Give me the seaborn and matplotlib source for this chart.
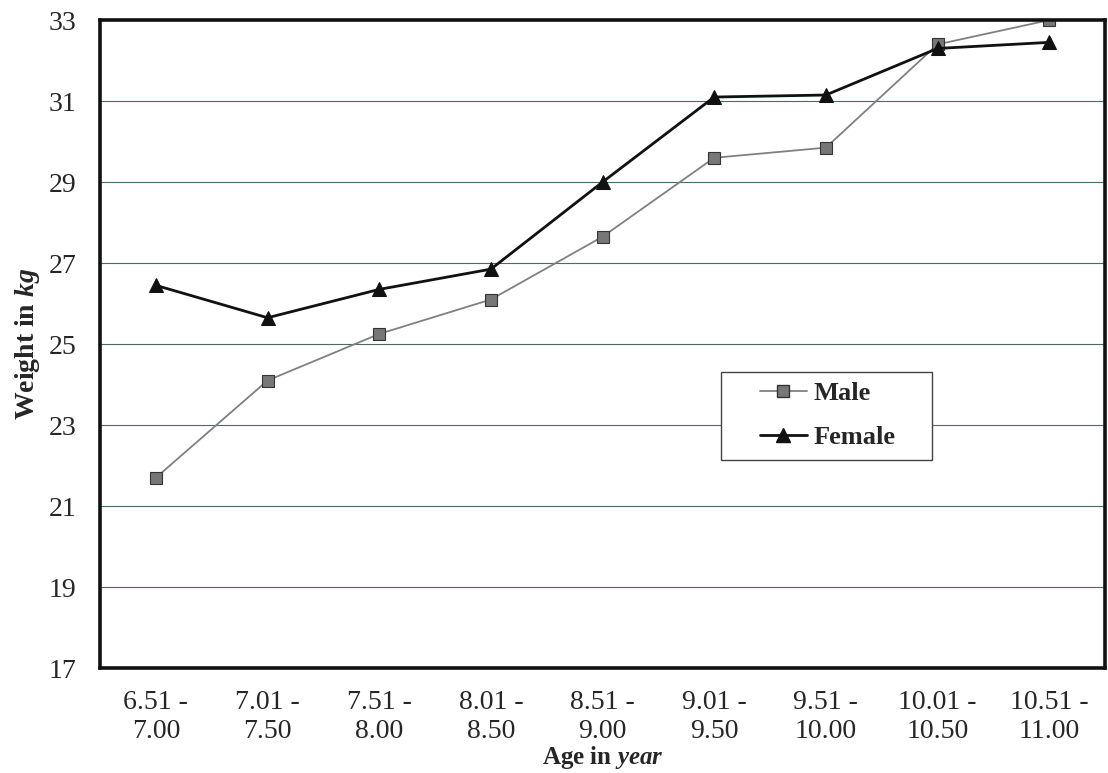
import matplotlib
matplotlib.use("Agg")
import matplotlib.pyplot as plt
import seaborn as sns
import pandas as pd
import numpy as np
from matplotlib.lines import Line2D
from matplotlib.patches import Rectangle

categories = ["6.51 -\n7.00", "7.01 -\n7.50", "7.51 -\n8.00", "8.01 -\n8.50", "8.51 -\n9.00",
              "9.01 -\n9.50", "9.51 -\n10.00", "10.01 -\n10.50", "10.51 -\n11.00"]
male = [21.7, 24.1, 25.25, 26.1, 27.65, 29.6, 29.85, 32.4, 33.0]
female = [26.45, 25.65, 26.35, 26.85, 29.0, 31.1, 31.15, 32.3, 32.45]
yticks = [17, 19, 21, 23, 25, 27, 29, 31, 33]

sns.set_theme(style="white")
plt.rcParams['font.family'] = ['Liberation Serif', 'DejaVu Serif']
plt.rcParams['mathtext.fontset'] = 'custom'
plt.rcParams['mathtext.rm'] = 'Liberation Serif:bold'
plt.rcParams['mathtext.it'] = 'Liberation Serif:bold:italic'

df = pd.DataFrame({
    "pos": list(range(len(categories))) * 2,
    "weight": male + female,
    "sex": ["Male"] * len(male) + ["Female"] * len(female),
})

fig = plt.figure(figsize=(11.08, 7.73), dpi=100)
ax = fig.add_axes([0.0903, 0.1358, 0.9070, 0.8382])

for yv in yticks[1:-1]:
    ax.axhline(yv, color="#4a6a6a", lw=0.8, zorder=0)

sns.lineplot(data=df, x="pos", y="weight", hue="sex", style="sex",
             hue_order=["Male", "Female"], style_order=["Male", "Female"],
             palette={"Male": "#808080", "Female": "#111111"},
             markers={"Male": "s", "Female": "^"}, dashes=False,
             ax=ax, legend=False)

lines = ax.get_lines()
ml, fl = lines[-2], lines[-1]
ml.set_linewidth(1.3); ml.set_markersize(8); ml.set_markerfacecolor("#777777"); ml.set_markeredgecolor("#333333"); ml.set_markeredgewidth(0.8)
fl.set_linewidth(2.0); fl.set_markersize(9.5); fl.set_markerfacecolor("#111111"); fl.set_markeredgecolor("#111111")

ax.set_xlim(-0.5, len(categories) - 0.5)
ax.set_ylim(17, 33)
ax.set_yticks(yticks)
ax.set_yticklabels([str(v) for v in yticks], fontsize=20)
ax.set_xticks(range(len(categories)))
ax.set_xticklabels(categories, fontsize=20, linespacing=1.22)
ax.set_xticks(np.arange(-0.5, len(categories), 1.0), minor=True)
ax.tick_params(axis="x", which="major", length=0, pad=16)
ax.tick_params(axis="x", which="minor", length=8, width=2.5, direction="out", color="#111111")
ax.tick_params(axis="y", which="major", length=8, width=2.5, direction="out", color="#111111", pad=9)

for s in ax.spines.values():
    s.set_visible(True)
    s.set_linewidth(2.6)
    s.set_color("#111111")

ax.set_xlabel("Age in $\\it{year}$", fontsize=18, fontweight="bold", va="bottom")
ax.xaxis.set_label_coords(0.5, -0.159)
ax.set_ylabel("Weight in $\\it{kg}$", fontsize=20, fontweight="bold", va="center")
ax.yaxis.set_label_coords(-0.072, 0.5)

ax.add_patch(Rectangle((0.618, 0.321), 0.21, 0.136, transform=ax.transAxes,
                       facecolor="white", edgecolor="#444444", lw=1.0, zorder=5))
handles = [Line2D([], [], color="#808080", lw=1.3, marker="s", markersize=8,
                  markerfacecolor="#777777", markeredgecolor="#333333"),
           Line2D([], [], color="#111111", lw=2.0, marker="^", markersize=9.5,
                  markerfacecolor="#111111")]
leg = ax.legend(handles, ["Male", "Female"], loc="center",
                bbox_to_anchor=(0.724, 0.39), frameon=False,
                prop={"family": "Liberation Serif", "weight": "bold", "size": 19},
                handlelength=1.8, handletextpad=0.25, labelspacing=0.78,
                borderpad=0, borderaxespad=0)
leg.set_zorder(6)

fig.savefig("out.png", dpi=100, facecolor="white")
